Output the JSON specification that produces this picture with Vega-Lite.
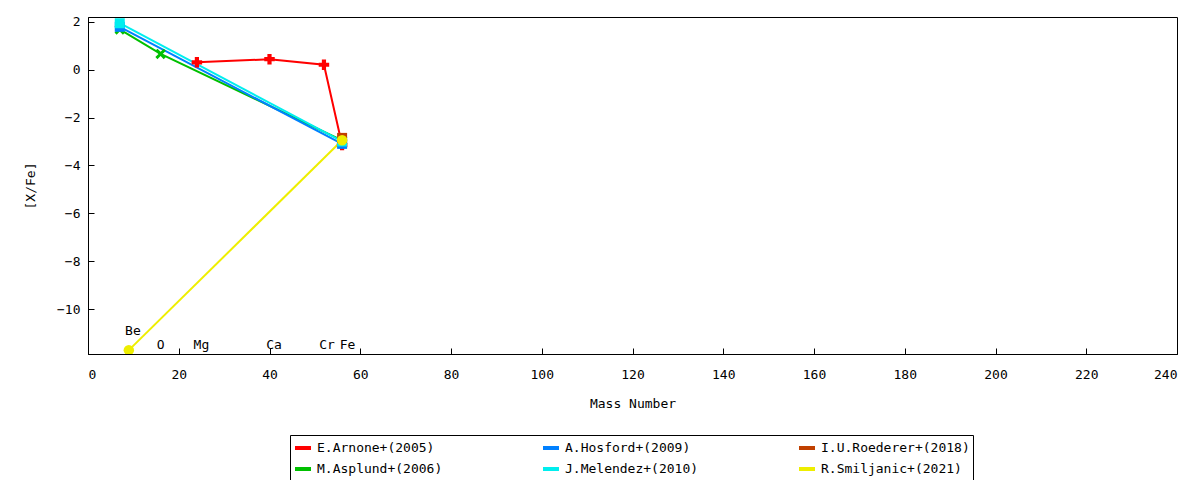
{
  "$schema": "https://vega.github.io/schema/vega-lite/v6.json",
  "width": 1089,
  "height": 337,
  "autosize": "none",
  "padding": {"left": 88, "top": 17, "right": 23, "bottom": 126},
  "background": "white",
  "datasets": {
    "abund": [
      {"series": "E.Arnone+(2005)", "element": "Mg", "mass": 24, "value": 0.3},
      {"series": "E.Arnone+(2005)", "element": "Ca", "mass": 40, "value": 0.43},
      {"series": "E.Arnone+(2005)", "element": "Cr", "mass": 52, "value": 0.2},
      {"series": "E.Arnone+(2005)", "element": "Fe", "mass": 56, "value": -3.15},
      {"series": "M.Asplund+(2006)", "element": "Li", "mass": 7, "value": 1.67},
      {"series": "M.Asplund+(2006)", "element": "O", "mass": 16, "value": 0.65},
      {"series": "M.Asplund+(2006)", "element": "Fe", "mass": 56, "value": -2.95},
      {"series": "A.Hosford+(2009)", "element": "Li", "mass": 7, "value": 1.78},
      {"series": "A.Hosford+(2009)", "element": "Fe", "mass": 56, "value": -3.1},
      {"series": "J.Melendez+(2010)", "element": "Li", "mass": 7, "value": 1.93},
      {"series": "J.Melendez+(2010)", "element": "Fe", "mass": 56, "value": -3.0},
      {"series": "I.U.Roederer+(2018)", "element": "Fe", "mass": 56, "value": -2.85},
      {"series": "R.Smiljanic+(2021)", "element": "Be", "mass": 9, "value": -11.7},
      {"series": "R.Smiljanic+(2021)", "element": "Fe", "mass": 56, "value": -2.95}
    ],
    "labels": [
      {"element": "Li", "mass": 8.5, "value": 2.38},
      {"element": "Be", "mass": 9.9, "value": -10.9},
      {"element": "O", "mass": 16, "value": -11.5},
      {"element": "Mg", "mass": 25, "value": -11.5},
      {"element": "Ca", "mass": 41, "value": -11.5},
      {"element": "Cr", "mass": 52.7, "value": -11.5},
      {"element": "Fe", "mass": 57.2, "value": -11.5}
    ]
  },
  "layer": [
    {
      "data": {"name": "abund"},
      "mark": {"type": "line", "strokeWidth": 2, "clip": true},
      "encoding": {
        "x": {"field": "mass", "type": "quantitative"},
        "y": {"field": "value", "type": "quantitative"},
        "order": {"field": "mass"},
        "stroke": {
          "field": "series",
          "type": "nominal",
          "scale": {
            "domain": ["E.Arnone+(2005)", "M.Asplund+(2006)", "A.Hosford+(2009)", "J.Melendez+(2010)", "I.U.Roederer+(2018)", "R.Smiljanic+(2021)"],
            "range": ["#ff0000", "#00c000", "#0080ff", "#00eeee", "#c04000", "#eeee00"]
          },
          "legend": {
            "orient": "none",
            "legendX": 202,
            "legendY": 418,
            "columns": 3,
            "title": null,
            "symbolType": "stroke",
            "symbolStrokeWidth": 4,
            "symbolSize": 256,
            "columnPadding": 92,
            "rowPadding": 3,
            "padding": 3,
            "strokeColor": "black",
            "labelFont": "DejaVu Sans Mono",
            "labelFontSize": 13,
            "labelColor": "black",
            "labelLimit": 300
          }
        }
      }
    },
    {
      "data": {"name": "abund"},
      "transform": [{"filter": {"field": "series", "equal": "E.Arnone+(2005)"}}],
      "mark": {"type": "point", "shape": "cross", "filled": true, "opacity": 1, "size": 110, "color": "#ff0000", "clip": true},
      "encoding": {
        "x": {"field": "mass", "type": "quantitative"},
        "y": {"field": "value", "type": "quantitative"}
      }
    },
    {
      "data": {"name": "abund"},
      "transform": [{"filter": {"field": "series", "equal": "M.Asplund+(2006)"}}],
      "mark": {"type": "point", "shape": "M-1,-0.6L-0.6,-1L0,-0.4L0.6,-1L1,-0.6L0.4,0L1,0.6L0.6,1L0,0.4L-0.6,1L-1,0.6L-0.4,0Z", "filled": true, "opacity": 1, "size": 110, "color": "#00c000", "clip": true},
      "encoding": {
        "x": {"field": "mass", "type": "quantitative"},
        "y": {"field": "value", "type": "quantitative"}
      }
    },
    {
      "data": {"name": "abund"},
      "transform": [{"filter": {"field": "series", "equal": "A.Hosford+(2009)"}}],
      "mark": {"type": "point", "shape": "square", "filled": true, "opacity": 1, "size": 100, "color": "#0080ff", "clip": true},
      "encoding": {
        "x": {"field": "mass", "type": "quantitative"},
        "y": {"field": "value", "type": "quantitative"}
      }
    },
    {
      "data": {"name": "abund"},
      "transform": [{"filter": {"field": "series", "equal": "J.Melendez+(2010)"}}],
      "mark": {"type": "point", "shape": "square", "filled": true, "opacity": 1, "size": 100, "color": "#00eeee", "clip": true},
      "encoding": {
        "x": {"field": "mass", "type": "quantitative"},
        "y": {"field": "value", "type": "quantitative"}
      }
    },
    {
      "data": {"name": "abund"},
      "transform": [{"filter": {"field": "series", "equal": "I.U.Roederer+(2018)"}}],
      "mark": {"type": "point", "shape": "square", "filled": true, "opacity": 1, "size": 100, "color": "#c04000", "clip": true},
      "encoding": {
        "x": {"field": "mass", "type": "quantitative"},
        "y": {"field": "value", "type": "quantitative"}
      }
    },
    {
      "data": {"name": "abund"},
      "transform": [{"filter": {"field": "series", "equal": "R.Smiljanic+(2021)"}}],
      "mark": {"type": "point", "shape": "circle", "filled": true, "opacity": 1, "size": 110, "color": "#eeee00", "clip": true},
      "encoding": {
        "x": {"field": "mass", "type": "quantitative"},
        "y": {"field": "value", "type": "quantitative"}
      }
    },
    {
      "data": {"name": "labels"},
      "mark": {"type": "text", "font": "DejaVu Sans Mono", "fontSize": 13, "fill": "black", "clip": true},
      "encoding": {
        "x": {"field": "mass", "type": "quantitative"},
        "y": {"field": "value", "type": "quantitative"},
        "text": {"field": "element", "type": "nominal"}
      }
    }
  ],
  "encoding": {
    "x": {
      "field": "mass",
      "type": "quantitative",
      "title": "Mass Number",
      "scale": {"domain": [0, 240], "nice": false},
      "axis": {"values": [0, 20, 40, 60, 80, 100, 120, 140, 160, 180, 200, 220, 240], "tickSize": -6, "labelPadding": 20, "titlePadding": 16}
    },
    "y": {
      "field": "value",
      "type": "quantitative",
      "title": "[X/Fe]",
      "scale": {"domain": [-11.86, 2.19], "nice": false, "zero": false},
      "axis": {"values": [2, 0, -2, -4, -6, -8, -10], "tickSize": -6, "labelPadding": 14, "titlePadding": 19}
    }
  },
  "config": {
    "view": {"stroke": "black", "strokeWidth": 1},
    "axis": {
      "grid": false,
      "domainColor": "black",
      "tickColor": "black",
      "labelFont": "DejaVu Sans Mono",
      "labelFontSize": 13,
      "labelColor": "black",
      "titleFont": "DejaVu Sans Mono",
      "titleFontSize": 13,
      "titleFontWeight": "normal",
      "titleColor": "black"
    }
  }
}
